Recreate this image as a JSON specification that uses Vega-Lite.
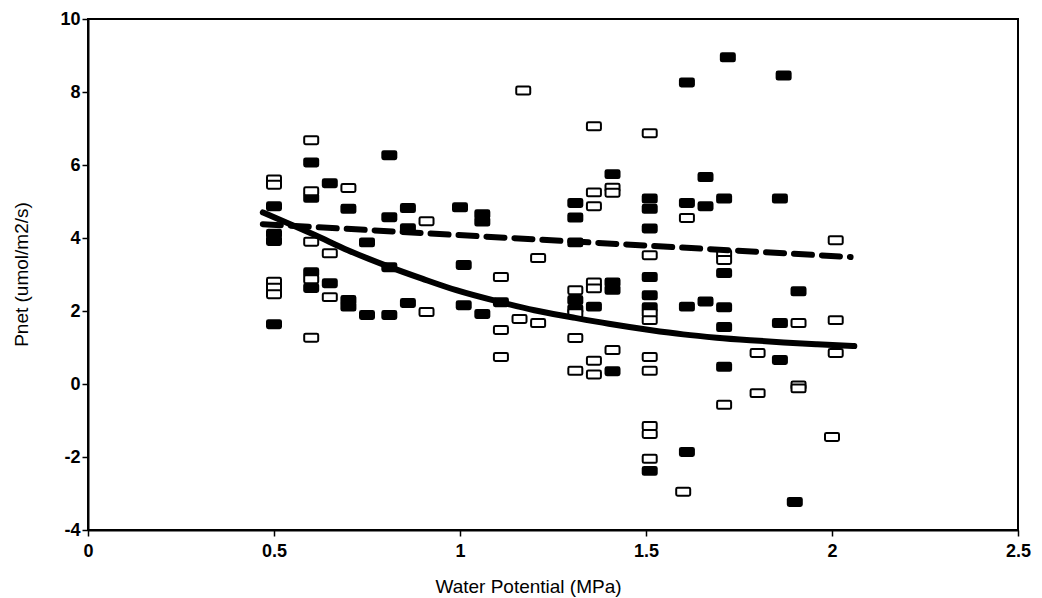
{
  "$schema": "https://vega.github.io/schema/vega-lite/v6.json",
  "autosize": {"type": "none"},
  "width": 930,
  "height": 511,
  "padding": {"left": 88, "top": 19, "right": 24, "bottom": 68},
  "background": "white",
  "config": {
    "font": "Liberation Sans",
    "view": {"stroke": "black", "strokeWidth": 2},
    "axis": {"domainColor": "black", "domainWidth": 2, "tickColor": "black", "tickWidth": 1.5, "labelColor": "black", "titleColor": "black", "grid": false, "labelFont": "Liberation Sans", "titleFont": "Liberation Sans", "titleFontWeight": "normal", "labelFontWeight": "bold"}
  },
  "datasets": {
    "points": [
      {"wp": 0.50, "pnet": 4.87, "type": "filled"},
      {"wp": 0.50, "pnet": 4.12, "type": "filled"},
      {"wp": 0.50, "pnet": 3.92, "type": "filled"},
      {"wp": 0.50, "pnet": 1.64, "type": "filled"},
      {"wp": 0.60, "pnet": 6.07, "type": "filled"},
      {"wp": 0.60, "pnet": 5.10, "type": "filled"},
      {"wp": 0.60, "pnet": 3.06, "type": "filled"},
      {"wp": 0.60, "pnet": 2.63, "type": "filled"},
      {"wp": 0.65, "pnet": 5.50, "type": "filled"},
      {"wp": 0.65, "pnet": 2.76, "type": "filled"},
      {"wp": 0.70, "pnet": 4.80, "type": "filled"},
      {"wp": 0.70, "pnet": 2.30, "type": "filled"},
      {"wp": 0.70, "pnet": 2.12, "type": "filled"},
      {"wp": 0.75, "pnet": 3.88, "type": "filled"},
      {"wp": 0.75, "pnet": 1.89, "type": "filled"},
      {"wp": 0.81, "pnet": 6.27, "type": "filled"},
      {"wp": 0.81, "pnet": 4.57, "type": "filled"},
      {"wp": 0.81, "pnet": 3.20, "type": "filled"},
      {"wp": 0.81, "pnet": 1.89, "type": "filled"},
      {"wp": 0.86, "pnet": 4.82, "type": "filled"},
      {"wp": 0.86, "pnet": 4.27, "type": "filled"},
      {"wp": 0.86, "pnet": 2.22, "type": "filled"},
      {"wp": 1.00, "pnet": 4.84, "type": "filled"},
      {"wp": 1.01, "pnet": 3.26, "type": "filled"},
      {"wp": 1.01, "pnet": 2.16, "type": "filled"},
      {"wp": 1.06, "pnet": 4.65, "type": "filled"},
      {"wp": 1.06, "pnet": 4.45, "type": "filled"},
      {"wp": 1.06, "pnet": 1.92, "type": "filled"},
      {"wp": 1.11, "pnet": 2.24, "type": "filled"},
      {"wp": 1.31, "pnet": 4.96, "type": "filled"},
      {"wp": 1.31, "pnet": 4.56, "type": "filled"},
      {"wp": 1.31, "pnet": 3.88, "type": "filled"},
      {"wp": 1.31, "pnet": 2.30, "type": "filled"},
      {"wp": 1.31, "pnet": 2.05, "type": "filled"},
      {"wp": 1.36, "pnet": 2.12, "type": "filled"},
      {"wp": 1.41, "pnet": 5.75, "type": "filled"},
      {"wp": 1.41, "pnet": 2.78, "type": "filled"},
      {"wp": 1.41, "pnet": 2.58, "type": "filled"},
      {"wp": 1.41, "pnet": 0.35, "type": "filled"},
      {"wp": 1.51, "pnet": 5.08, "type": "filled"},
      {"wp": 1.51, "pnet": 4.80, "type": "filled"},
      {"wp": 1.51, "pnet": 4.26, "type": "filled"},
      {"wp": 1.51, "pnet": 2.93, "type": "filled"},
      {"wp": 1.51, "pnet": 2.43, "type": "filled"},
      {"wp": 1.51, "pnet": 2.10, "type": "filled"},
      {"wp": 1.51, "pnet": -2.38, "type": "filled"},
      {"wp": 1.61, "pnet": 8.26, "type": "filled"},
      {"wp": 1.61, "pnet": 4.96, "type": "filled"},
      {"wp": 1.61, "pnet": 2.12, "type": "filled"},
      {"wp": 1.61, "pnet": -1.86, "type": "filled"},
      {"wp": 1.66, "pnet": 5.67, "type": "filled"},
      {"wp": 1.66, "pnet": 4.87, "type": "filled"},
      {"wp": 1.66, "pnet": 2.26, "type": "filled"},
      {"wp": 1.72, "pnet": 8.95, "type": "filled"},
      {"wp": 1.71, "pnet": 5.08, "type": "filled"},
      {"wp": 1.71, "pnet": 3.04, "type": "filled"},
      {"wp": 1.71, "pnet": 2.10, "type": "filled"},
      {"wp": 1.71, "pnet": 1.56, "type": "filled"},
      {"wp": 1.71, "pnet": 0.47, "type": "filled"},
      {"wp": 1.87, "pnet": 8.45, "type": "filled"},
      {"wp": 1.86, "pnet": 5.08, "type": "filled"},
      {"wp": 1.86, "pnet": 1.67, "type": "filled"},
      {"wp": 1.86, "pnet": 0.66, "type": "filled"},
      {"wp": 1.91, "pnet": 2.54, "type": "filled"},
      {"wp": 1.90, "pnet": -3.23, "type": "filled"},
      {"wp": 0.50, "pnet": 5.60, "type": "open"},
      {"wp": 0.50, "pnet": 5.46, "type": "open"},
      {"wp": 0.50, "pnet": 2.80, "type": "open"},
      {"wp": 0.50, "pnet": 2.64, "type": "open"},
      {"wp": 0.50, "pnet": 2.46, "type": "open"},
      {"wp": 0.60, "pnet": 6.68, "type": "open"},
      {"wp": 0.60, "pnet": 5.28, "type": "open"},
      {"wp": 0.60, "pnet": 3.90, "type": "open"},
      {"wp": 0.60, "pnet": 2.87, "type": "open"},
      {"wp": 0.60, "pnet": 1.27, "type": "open"},
      {"wp": 0.65, "pnet": 3.58, "type": "open"},
      {"wp": 0.65, "pnet": 2.38, "type": "open"},
      {"wp": 0.70, "pnet": 5.37, "type": "open"},
      {"wp": 0.91, "pnet": 4.46, "type": "open"},
      {"wp": 0.91, "pnet": 1.97, "type": "open"},
      {"wp": 1.11, "pnet": 2.93, "type": "open"},
      {"wp": 1.11, "pnet": 1.48, "type": "open"},
      {"wp": 1.11, "pnet": 0.74, "type": "open"},
      {"wp": 1.16, "pnet": 1.78, "type": "open"},
      {"wp": 1.17, "pnet": 8.04, "type": "open"},
      {"wp": 1.21, "pnet": 3.45, "type": "open"},
      {"wp": 1.21, "pnet": 1.67, "type": "open"},
      {"wp": 1.31, "pnet": 2.57, "type": "open"},
      {"wp": 1.31, "pnet": 1.94, "type": "open"},
      {"wp": 1.31, "pnet": 1.26, "type": "open"},
      {"wp": 1.31, "pnet": 0.36, "type": "open"},
      {"wp": 1.36, "pnet": 7.06, "type": "open"},
      {"wp": 1.36, "pnet": 5.25, "type": "open"},
      {"wp": 1.36, "pnet": 4.87, "type": "open"},
      {"wp": 1.36, "pnet": 2.78, "type": "open"},
      {"wp": 1.36, "pnet": 2.62, "type": "open"},
      {"wp": 1.36, "pnet": 0.64, "type": "open"},
      {"wp": 1.36, "pnet": 0.26, "type": "open"},
      {"wp": 1.41, "pnet": 5.38, "type": "open"},
      {"wp": 1.41, "pnet": 5.24, "type": "open"},
      {"wp": 1.41, "pnet": 0.93, "type": "open"},
      {"wp": 1.51, "pnet": 6.87, "type": "open"},
      {"wp": 1.51, "pnet": 3.53, "type": "open"},
      {"wp": 1.51, "pnet": 1.94, "type": "open"},
      {"wp": 1.51, "pnet": 1.75, "type": "open"},
      {"wp": 1.51, "pnet": 0.74, "type": "open"},
      {"wp": 1.51, "pnet": 0.36, "type": "open"},
      {"wp": 1.51, "pnet": -1.15, "type": "open"},
      {"wp": 1.51, "pnet": -1.37, "type": "open"},
      {"wp": 1.51, "pnet": -2.05, "type": "open"},
      {"wp": 1.60, "pnet": -2.95, "type": "open"},
      {"wp": 1.61, "pnet": 4.55, "type": "open"},
      {"wp": 1.71, "pnet": 3.56, "type": "open"},
      {"wp": 1.71, "pnet": 3.40, "type": "open"},
      {"wp": 1.71, "pnet": -0.57, "type": "open"},
      {"wp": 1.80, "pnet": 0.85, "type": "open"},
      {"wp": 1.80, "pnet": -0.25, "type": "open"},
      {"wp": 1.91, "pnet": 1.67, "type": "open"},
      {"wp": 1.91, "pnet": -0.04, "type": "open"},
      {"wp": 1.91, "pnet": -0.12, "type": "open"},
      {"wp": 2.01, "pnet": 3.94, "type": "open"},
      {"wp": 2.01, "pnet": 1.75, "type": "open"},
      {"wp": 2.01, "pnet": 0.85, "type": "open"},
      {"wp": 2.00, "pnet": -1.45, "type": "open"}
    ],
    "curve": [
      {"wp": 0.47, "pnet": 4.70},
      {"wp": 0.55, "pnet": 4.35},
      {"wp": 0.61, "pnet": 4.08},
      {"wp": 0.70, "pnet": 3.66},
      {"wp": 0.81, "pnet": 3.21},
      {"wp": 0.90, "pnet": 2.88},
      {"wp": 0.99, "pnet": 2.57},
      {"wp": 1.11, "pnet": 2.24},
      {"wp": 1.20, "pnet": 2.02},
      {"wp": 1.30, "pnet": 1.83},
      {"wp": 1.40, "pnet": 1.65},
      {"wp": 1.51, "pnet": 1.48},
      {"wp": 1.60, "pnet": 1.36},
      {"wp": 1.69, "pnet": 1.27},
      {"wp": 1.78, "pnet": 1.20},
      {"wp": 1.87, "pnet": 1.14},
      {"wp": 1.96, "pnet": 1.09},
      {"wp": 2.06, "pnet": 1.04}
    ],
    "dashed": [
      {"wp": 0.47, "pnet": 4.38},
      {"wp": 2.05, "pnet": 3.48}
    ]
  },
  "layer": [
    {
      "mark": {"type": "rule", "stroke": "black", "strokeWidth": 2, "strokeDash": [2, 2]},
      "encoding": {"y": {"datum": 0, "type": "quantitative"}}
    },
    {
      "data": {"name": "points"},
      "mark": {"type": "point", "filled": true, "shape": "M-0.8,-0.57H0.8Q1,-0.57 1,-0.37V0.37Q1,0.57 0.8,0.57H-0.8Q-1,0.57 -1,0.37V-0.37Q-1,-0.57 -0.8,-0.57Z", "size": 196, "stroke": "black", "strokeWidth": 2, "opacity": 1},
      "encoding": {
        "x": {
          "field": "wp", "type": "quantitative",
          "scale": {"domain": [0, 2.5], "nice": false, "zero": false},
          "axis": {"values": [0, 0.5, 1, 1.5, 2, 2.5], "labelExpr": "'' + datum.value", "title": "Water Potential (MPa)", "labelFontSize": 18, "titleFontSize": 19, "tickSize": 6, "labelPadding": 6, "titleX": 440, "titleY": 56, "titleBaseline": "middle", "labelFlush": false}
        },
        "y": {
          "field": "pnet", "type": "quantitative",
          "scale": {"domain": [-4, 10], "nice": false, "zero": false},
          "axis": {"values": [-4, -2, 0, 2, 4, 6, 8, 10], "labelExpr": "'' + datum.value", "title": "Pnet (umol/m2/s)", "labelFontSize": 18, "titleFontSize": 19, "tickSize": 6, "labelPadding": 2, "titleX": -67, "titleY": 255, "titleAngle": -90, "titleAlign": "center", "titleBaseline": "middle", "labelFlush": false}
        },
        "fill": {"field": "type", "type": "nominal", "scale": {"domain": ["filled", "open"], "range": ["black", "white"]}, "legend": null}
      }
    },
    {
      "data": {"name": "dashed"},
      "mark": {"type": "line", "stroke": "black", "strokeWidth": 6, "strokeDash": [18, 10], "strokeCap": "round"},
      "encoding": {"x": {"field": "wp", "type": "quantitative"}, "y": {"field": "pnet", "type": "quantitative"}}
    },
    {
      "data": {"name": "curve"},
      "mark": {"type": "line", "stroke": "black", "strokeWidth": 6, "interpolate": "monotone", "strokeCap": "round"},
      "encoding": {"x": {"field": "wp", "type": "quantitative"}, "y": {"field": "pnet", "type": "quantitative"}}
    }
  ]
}
